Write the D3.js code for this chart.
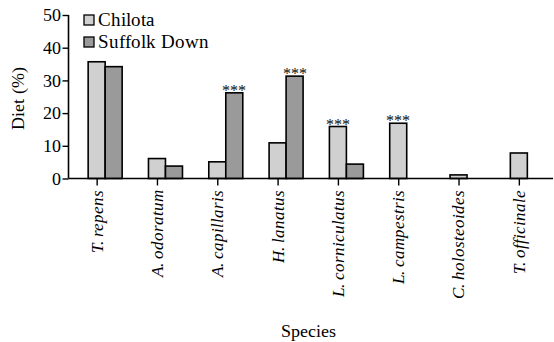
<!DOCTYPE html>
<html>
<head>
<meta charset="utf-8">
<script src="https://cdn.jsdelivr.net/npm/d3@7"></script>
<style>
  @font-face { font-family: "RefSerif"; font-style: normal; src: local("Liberation Serif"), local("LiberationSerif"), local("Liberation Serif Regular"); }
  @font-face { font-family: "RefSerif"; font-style: italic; src: local("Liberation Serif Italic"), local("LiberationSerif-Italic"); }
  body { margin: 0; background: #fff; }
</style>
</head>
<body>
<svg id="chart" width="554" height="342"></svg>
<script>
// data
var species = ["T. repens", "A. odoratum", "A. capillaris", "H. lanatus", "L. corniculatus", "L. campestris", "C. holosteoides", "T. officinale"];
var chilota = [35.7, 6.1, 5.1, 10.9, 15.9, 16.9, 1.1, 7.8];
var suffolk = [34.2, 3.8, 26.2, 31.3, 4.4, 0, 0, 0];
var seriesNames = ["Chilota", "Suffolk Down"];
var seriesColors = ["#d0d0d0", "#9a9a9a"];
// which bar carries the *** mark: [species index, series index]
var signif = [[2, 1], [3, 1], [4, 0], [5, 0]];
var yTicks = [0, 10, 20, 30, 40, 50];

var FONT = "RefSerif, 'Liberation Serif', 'Times New Roman', serif";
var svg = d3.select("#chart");
var x0 = 66.5, x1 = 549, yTop = 15, yBot = 178.5;
var barW = 17;

var x = d3.scaleBand().domain(species).range([x0, x1]);
var y = d3.scaleLinear().domain([0, 50]).range([yBot, yTop]);

// tick sits on the centre of the first (Chilota) bar
function tickX(d){ return x(d) + x.bandwidth()/2; }

var values = [chilota, suffolk];

/*************************** bars ***************************/
values.forEach(function(vals, s){
  var data = species.map(function(d, i){ return { sp: d, v: vals[i] }; }).filter(function(d){ return d.v > 0; });
  svg.append("g").selectAll("rect").data(data).enter().append("rect")
    .attr("x", function(d){ return tickX(d.sp) - barW/2 + s*barW; })
    .attr("y", function(d){ return y(d.v); })
    .attr("width", barW)
    .attr("height", function(d){ return y(0) - y(d.v); })
    .style("fill", seriesColors[s])
    .style("stroke", "#000")
    .style("stroke-width", 1.6);
});

// significance stars
svg.append("g").selectAll("text").data(signif).enter().append("text")
  .attr("x", function(d){ return tickX(species[d[0]]) + d[1]*barW; })
  .attr("y", function(d){ return y(values[d[1]][d[0]]) + 3; })
  .attr("text-anchor", "middle")
  .style("font-family", FONT).style("font-size", "16px")
  .style("fill", "#222")
  .text("***");

/*************************** axes ***************************/
var yAxis = svg.append("g").attr("transform", "translate(68.5,0)")
  .call(d3.axisLeft(y).tickValues(yTicks).tickSize(6).tickPadding(2));
yAxis.select(".domain").attr("d", "M0," + yTop + "V" + yBot).style("stroke-width", 1.6);
yAxis.selectAll(".tick line").style("stroke-width", 1.4);
yAxis.selectAll(".tick text")
  .style("font-family", FONT).style("font-size", "18px")
  .attr("fill", "#000");

var xScaleTicks = d3.scalePoint().domain(species).range([tickX(species[0]), tickX(species[species.length-1])]);
var xAxis = svg.append("g").attr("transform", "translate(0," + yBot + ")")
  .call(d3.axisBottom(xScaleTicks).tickSize(7).tickPadding(4));
xAxis.select(".domain").attr("d", "M68.5,0H553").style("stroke-width", 1.6);
xAxis.selectAll(".tick line").style("stroke-width", 1.4);
xAxis.selectAll(".tick text")
  .style("font-family", FONT).style("font-size", "17px").style("font-style", "italic")
  .attr("fill", "#000")
  .attr("text-anchor", "end")
  .attr("transform", "rotate(-90)")
  .attr("x", -11).attr("y", 0).attr("dy", "0.32em");

// axis titles
svg.append("text")
  .attr("transform", "translate(24,98) rotate(-90)")
  .attr("text-anchor", "middle")
  .style("font-family", FONT).style("font-size", "18px")
  .text("Diet (%)");

svg.append("text")
  .attr("x", 308).attr("y", 337)
  .attr("text-anchor", "middle")
  .style("font-family", FONT).style("font-size", "18px")
  .text("Species");

/*************************** legend ***************************/
var legend = svg.append("g").selectAll("g").data(seriesNames).enter().append("g")
  .attr("transform", function(d, i){ return "translate(84," + (15 + i*22) + ")"; });
legend.append("rect")
  .attr("width", 10).attr("height", 10)
  .style("fill", function(d, i){ return seriesColors[i]; })
  .style("stroke", "#000").style("stroke-width", 1.3);
legend.append("text")
  .attr("x", 14).attr("y", 11)
  .style("font-family", FONT).style("font-size", "18.5px")
  .text(function(d){ return d; });
</script>
</body>
</html>
